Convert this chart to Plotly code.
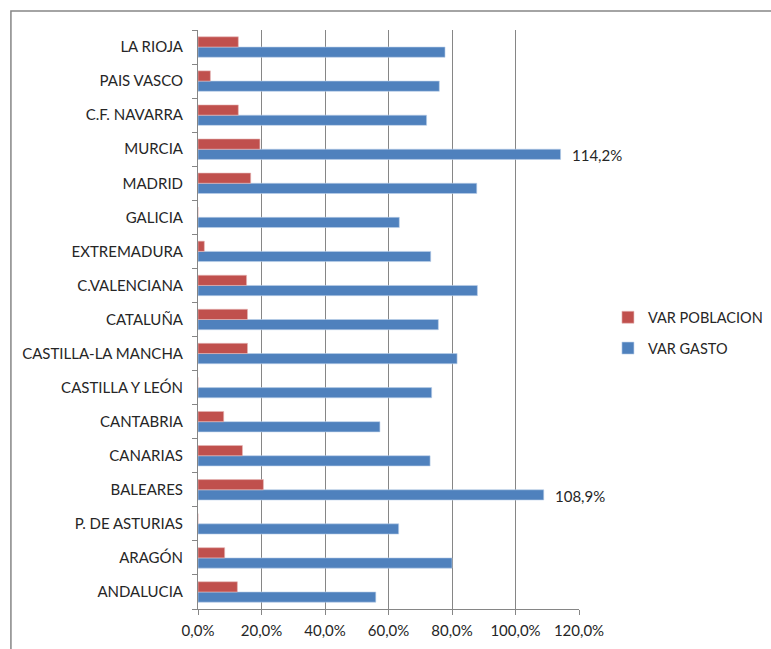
import plotly.graph_objects as go

# Regions, listed bottom to top as they appear on the category axis
regions = [
    "ANDALUCIA", "ARAGÓN", "P. DE ASTURIAS", "BALEARES", "CANARIAS",
    "CANTABRIA", "CASTILLA Y LEÓN", "CASTILLA-LA MANCHA", "CATALUÑA",
    "C.VALENCIANA", "EXTREMADURA", "GALICIA", "MADRID", "MURCIA",
    "C.F. NAVARRA", "PAIS VASCO", "LA RIOJA",
]

# Percentage change in population per region
var_poblacion = [12.4, 8.4, 0.0, 20.6, 14.0, 8.1, 0.0, 15.6, 15.6,
                 15.3, 2.0, 0.0, 16.6, 19.5, 12.7, 3.9, 12.7]

# Percentage change in spending per region
var_gasto = [56.0, 80.0, 63.2, 108.9, 73.1, 57.3, 73.6, 81.6, 75.7,
             88.0, 73.3, 63.4, 87.8, 114.2, 72.0, 76.0, 77.8]

# Regions whose spending value is printed next to the bar
labelled = ["BALEARES", "MURCIA"]

x_tick_vals = [0, 20, 40, 60, 80, 100, 120]
x_tick_text = ["0,0%", "20,0%", "40,0%", "60,0%", "80,0%", "100,0%", "120,0%"]


def pct_label(v):
    return f"{v:.1f}".replace(".", ",") + "%"


FONT = "Lato, Carlito, Calibri, sans-serif"
TEXT_COLOR = "#262626"
GRID = "#868686"

fig = go.Figure()
fig.add_trace(go.Bar(
    y=regions, x=var_gasto, orientation="h", name="VAR GASTO",
    legendgroup="gasto", legendrank=2,
    marker=dict(color="#4F81BD", line=dict(color="#BCD0EA", width=0.6)),
))
fig.add_trace(go.Bar(
    y=regions, x=var_poblacion, orientation="h", name="VAR POBLACION",
    legendgroup="poblacion", legendrank=1,
    marker=dict(color="#C0504D", line=dict(color="#E6B9B8", width=0.6)),
))

# Value labels beside the longest spending bars (blue bar sits in the lower half of each slot)
annotations = [
    dict(
        x=v, y=r, xref="x", yref="y", text=pct_label(v), showarrow=False,
        xanchor="left", yanchor="middle", xshift=9, yshift=-6,
        font=dict(family=FONT, size=15, color=TEXT_COLOR),
    )
    for r, v in zip(regions, var_gasto) if r in labelled
]

fig.update_layout(
    width=771, height=649,
    margin=dict(l=198, r=192, t=30, b=40, autoexpand=False),
    paper_bgcolor="white", plot_bgcolor="white",
    barmode="group", bargap=0.4, bargroupgap=0,
    font=dict(family=FONT, size=15, color=TEXT_COLOR),
    showlegend=True,
    legend=dict(
        x=1.076, y=0.477, xanchor="left", yanchor="middle",
        traceorder="grouped", tracegroupgap=9,
        font=dict(family=FONT, size=14.5, color=TEXT_COLOR),
        bgcolor="rgba(0,0,0,0)",
    ),
    xaxis=dict(
        range=[0, 120], tickvals=x_tick_vals, ticktext=x_tick_text,
        showgrid=True, gridcolor=GRID, gridwidth=1,
        showline=True, linecolor=GRID, linewidth=1,
        ticks="outside", ticklen=5, tickcolor=GRID, ticklabelstandoff=3,
        zeroline=False, fixedrange=True,
        tickfont=dict(family=FONT, size=15, color=TEXT_COLOR),
    ),
    yaxis=dict(
        type="category", categoryorder="array", categoryarray=regions,
        showline=True, linecolor=GRID, linewidth=1,
        ticks="outside", ticklen=5, tickcolor=GRID, tickson="boundaries",
        ticklabelstandoff=11,
        showgrid=False, fixedrange=True,
        tickfont=dict(family=FONT, size=15, color=TEXT_COLOR),
    ),
    annotations=annotations,
    shapes=[dict(
        type="rect", xref="paper", yref="paper",
        x0=-0.491, x1=2.0, y0=-0.5, y1=(609 - 11) / 579,
        line=dict(color=GRID, width=1.5), fillcolor="rgba(0,0,0,0)", layer="below",
    )],
)

fig.write_html("out.html")
